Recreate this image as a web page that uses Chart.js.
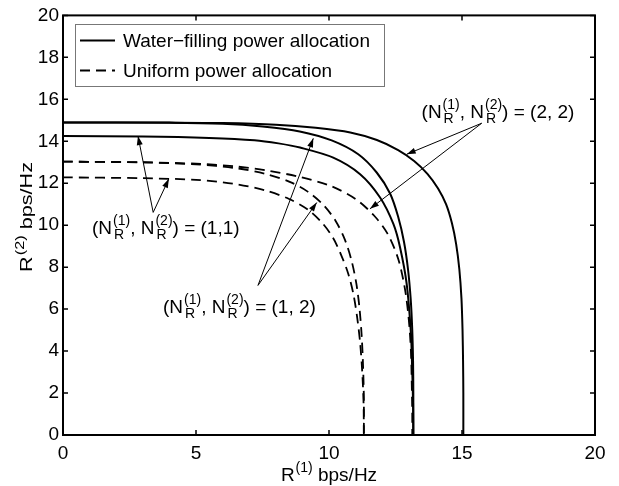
<!DOCTYPE html>
<html>
<head>
<meta charset="utf-8">
<script src="https://cdn.jsdelivr.net/npm/chart.js@4/dist/chart.umd.min.js"></script>
<style>
  body { margin: 0; background: #fff; }
  #wrap { width: 619px; height: 486px; }
</style>
</head>
<body>
<div id="wrap"><canvas id="chart" width="619" height="486"></canvas></div>
<script>
// rate region boundaries as [R1, R2] pairs
const wf22 = [[0,14.9],[4,14.89],[6,14.87],[8,14.79],[9.5,14.64],[10.8,14.42],[11.8,14.06],[12.6,13.58],[13.2,13.06],[13.7,12.45],[14.1,11.75],[14.4,11.0],[14.62,10.1],[14.78,9.1],[14.9,7.9],[14.98,6.5],[15.02,5.0],[15.04,3.5],[15.05,2],[15.05,0]];
const wf12 = [[0,14.9],[4,14.88],[6,14.83],[7.5,14.7],[8.9,14.47],[10.1,14.04],[11.1,13.38],[11.8,12.5],[12.3,11.5],[12.6,10.4],[12.82,9.2],[12.97,7.9],[13.07,6.5],[13.13,5.0],[13.16,3.5],[13.17,2],[13.17,0]];
const wf11 = [[0,14.25],[3,14.23],[5.5,14.16],[7.2,14.05],[8.1,13.9],[8.91,13.7],[10.16,13.22],[11.17,12.43],[11.92,11.32],[12.42,10.06],[12.67,8.95],[12.92,7.2],[13.08,4.83],[13.13,3.0],[13.16,1.5],[13.17,0]];
const un22 = [[0,13.03],[3,13.0],[5.2,12.92],[6.5,12.8],[7.7,12.6],[8.9,12.3],[10.1,11.85],[11.0,11.25],[11.7,10.45],[12.2,9.6],[12.6,8.4],[12.85,7.0],[13.0,5.5],[13.08,4.0],[13.11,2.5],[13.13,1],[13.13,0]];
const un12 = [[0,13.03],[3,12.99],[5,12.9],[6.5,12.72],[7.6,12.45],[8.5,12.08],[9.2,11.6],[9.8,10.95],[10.25,10.2],[10.6,9.3],[10.85,8.3],[11.03,7.2],[11.15,6.0],[11.23,4.7],[11.28,3.3],[11.31,1.8],[11.31,0]];
const un11 = [[0,12.28],[3,12.24],[5,12.16],[6.4,11.98],[7.6,11.66],[8.5,11.25],[9.2,10.75],[9.75,10.1],[10.15,9.4],[10.45,8.6],[10.72,7.7],[10.92,6.7],[11.06,5.6],[11.17,4.4],[11.25,3.0],[11.3,1.5],[11.31,0]];

const xTickValues = [0, 5, 10, 15, 20];
const yTickValues = [0, 2, 4, 6, 8, 10, 12, 14, 16, 18, 20];
const legendLabels = ["Water\u2212filling power allocation", "Uniform power allocation"];

// (N_R^(1), N_R^(2)) = ... labels, with their arrows, in data units
const notes = [
  { value: "(1,1)", at: [1.09, 9.6], from: [3.39, 10.61], to: [[2.82, 14.25], [3.98, 12.21]] },
  { value: "(2, 2)", at: [13.48, 15.12], from: [15.74, 14.86], to: [[12.92, 13.38], [11.54, 10.78]] },
  { value: "(1, 2)", at: [3.76, 5.8], from: [7.33, 7.13], to: [[9.41, 14.14], [9.54, 11.08]] },
];

const FONT = '"Liberation Sans", Arial, Helvetica, sans-serif';
const SIZE = 19;
const SMALL = 14;
const DASH = [10, 6];

function pts(arr) {
  return arr.map((p) => ({ x: p[0], y: p[1] }));
}
function curve(arr, dashed) {
  return {
    data: pts(arr),
    showLine: true,
    borderColor: "#000",
    borderWidth: dashed ? 1.8 : 2,
    borderDash: dashed ? DASH : [],
    pointRadius: 0,
    tension: 0.3,
    fill: false,
  };
}

// draws text runs; {sup, sub} parts stack a superscript over a subscript
function drawRich(ctx, x, y, parts, size = SIZE, small = SMALL) {
  const k = size / SIZE;
  ctx.textAlign = "left";
  ctx.textBaseline = "alphabetic";
  for (const p of parts) {
    if (typeof p === "string") {
      ctx.font = size + "px " + FONT;
      ctx.fillText(p, x, y);
      x += ctx.measureText(p).width;
    } else {
      ctx.font = small + "px " + FONT;
      let w = 0;
      if (p.sup) { ctx.fillText(p.sup, x + k, y - 9 * k); w = ctx.measureText(p.sup).width + k; }
      if (p.sub) { ctx.fillText(p.sub, x + 2 * k, y + 5 * k); w = Math.max(w, ctx.measureText(p.sub).width + 2 * k); }
      x += w;
    }
  }
  return x;
}
function richWidth(ctx, parts, size = SIZE, small = SMALL) {
  const k = size / SIZE;
  let w = 0;
  for (const p of parts) {
    if (typeof p === "string") {
      ctx.font = size + "px " + FONT;
      w += ctx.measureText(p).width;
    } else {
      ctx.font = small + "px " + FONT;
      w += Math.max(p.sup ? ctx.measureText(p.sup).width + k : 0, p.sub ? ctx.measureText(p.sub).width + 2 * k : 0);
    }
  }
  return w;
}

function arrow(ctx, x0, y0, x1, y1) {
  ctx.beginPath();
  ctx.moveTo(x0, y0);
  ctx.lineTo(x1, y1);
  ctx.stroke();
  const a = Math.atan2(y1 - y0, x1 - x0);
  const len = 9, hw = 3;
  ctx.beginPath();
  ctx.moveTo(x1, y1);
  ctx.lineTo(x1 - len * Math.cos(a) + hw * Math.sin(a), y1 - len * Math.sin(a) - hw * Math.cos(a));
  ctx.lineTo(x1 - len * Math.cos(a) - hw * Math.sin(a), y1 - len * Math.sin(a) + hw * Math.cos(a));
  ctx.closePath();
  ctx.fill();
}

const frame = {
  id: "frame",
  afterDatasetsDraw(chart) {
    const { ctx, chartArea: ca, scales } = chart;
    const xs = scales.x, ys = scales.y;
    ctx.save();
    ctx.strokeStyle = "#000";
    ctx.fillStyle = "#000";

    // box and inward ticks on all sides
    ctx.lineWidth = 1.5;
    ctx.beginPath();
    for (const v of xTickValues) {
      const px = xs.getPixelForValue(v);
      ctx.moveTo(px, ca.bottom); ctx.lineTo(px, ca.bottom - 5);
      ctx.moveTo(px, ca.top); ctx.lineTo(px, ca.top + 5);
    }
    for (const v of yTickValues) {
      const py = ys.getPixelForValue(v);
      ctx.moveTo(ca.left, py); ctx.lineTo(ca.left + 5, py);
      ctx.moveTo(ca.right, py); ctx.lineTo(ca.right - 5, py);
    }
    ctx.stroke();
    ctx.lineWidth = 2;
    ctx.strokeRect(ca.left, ca.top, ca.right - ca.left, ca.bottom - ca.top);

    // legend box
    ctx.fillStyle = "#fff";
    ctx.fillRect(75, 24, 310, 63);
    ctx.lineWidth = 1;
    ctx.strokeStyle = "#777";
    ctx.strokeRect(75.5, 24.5, 309, 62);
    ctx.strokeStyle = "#000";
    ctx.fillStyle = "#000";
    chart.data.datasets.slice(0, 2).forEach((ds, i) => {
      const ly = i === 0 ? 40.5 : 70.5;
      ctx.lineWidth = ds.borderWidth;
      ctx.setLineDash(ds.borderDash);
      ctx.beginPath();
      ctx.moveTo(80, ly);
      ctx.lineTo(115, ly);
      ctx.stroke();
      ctx.setLineDash([]);
      ctx.font = SIZE + "px " + FONT;
      ctx.textAlign = "left";
      ctx.textBaseline = "alphabetic";
      ctx.fillText(legendLabels[i], 123, i === 0 ? 47 : 77);
    });

    // annotations
    ctx.lineWidth = 1;
    for (const n of notes) {
      const fx = xs.getPixelForValue(n.from[0]), fy = ys.getPixelForValue(n.from[1]);
      for (const t of n.to) {
        arrow(ctx, fx, fy, xs.getPixelForValue(t[0]), ys.getPixelForValue(t[1]));
      }
      drawRich(ctx, xs.getPixelForValue(n.at[0]), ys.getPixelForValue(n.at[1]),
        ["(N", { sup: "(1)", sub: "R" }, ", N", { sup: "(2)", sub: "R" }, ") = " + n.value]);
    }

    // axis titles (the rotated one is printed smaller and drawn out, as in the source)
    const xt = ["R", { sup: "(1)" }, " bps/Hz"];
    const xw = richWidth(ctx, xt);
    drawRich(ctx, (ca.left + ca.right) / 2 - xw / 2, 481, xt);
    const yt = ["R", { sup: "(2)" }, " bps/Hz"];
    const yw = richWidth(ctx, yt, 16, 12);
    ctx.translate(32, 217);
    ctx.rotate(-Math.PI / 2);
    ctx.scale(110 / yw, 1);
    drawRich(ctx, -yw / 2, 0, yt, 16, 12);
    ctx.restore();
  },
};

new Chart(document.getElementById("chart"), {
  type: "scatter",
  data: {
    datasets: [
      curve(wf22, false),
      curve(un22, true),
      curve(wf12, false),
      curve(wf11, false),
      curve(un12, true),
      curve(un11, true),
    ],
  },
  options: {
    responsive: false,
    animation: false,
    devicePixelRatio: 1,
    layout: { padding: { top: 14, right: 24, left: 0, bottom: 0 } },
    plugins: { legend: { display: false }, tooltip: { enabled: false } },
    scales: {
      x: {
        type: "linear",
        min: 0,
        max: 20,
        afterBuildTicks: (s) => { s.ticks = xTickValues.map((v) => ({ value: v })); },
        afterFit: (s) => { s.height = 51; },
        grid: { display: false, drawTicks: false },
        border: { display: false },
        ticks: { color: "#000", padding: 7, font: { size: SIZE, family: FONT } },
      },
      y: {
        type: "linear",
        min: 0,
        max: 20,
        afterBuildTicks: (s) => { s.ticks = yTickValues.map((v) => ({ value: v })); },
        afterFit: (s) => { s.width = 63; },
        grid: { display: false, drawTicks: false },
        border: { display: false },
        ticks: { color: "#000", padding: 4, font: { size: SIZE, family: FONT } },
      },
    },
  },
  plugins: [frame],
});
</script>
</body>
</html>
